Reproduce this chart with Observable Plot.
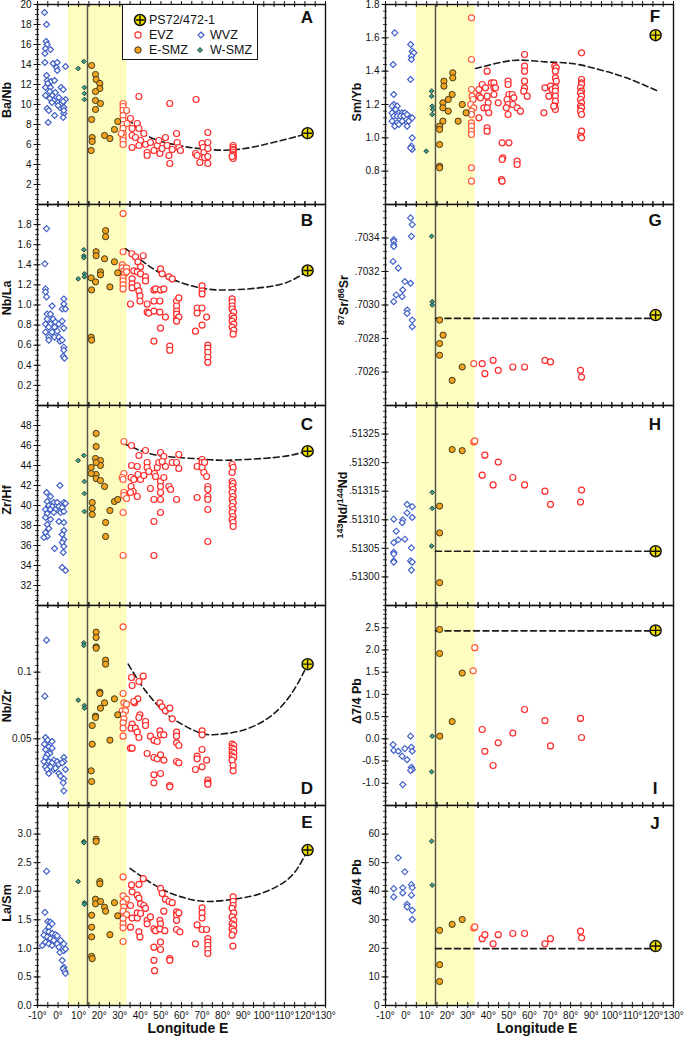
<!DOCTYPE html>
<html><head><meta charset="utf-8">
<script src="https://cdn.jsdelivr.net/npm/d3@7"></script>
<script src="https://cdn.jsdelivr.net/npm/@observablehq/plot@0.6"></script>
<style>
body{margin:0;background:#fff;font-family:Arial,"Liberation Sans",sans-serif;}
#wrap{position:relative;width:685px;height:1037px;overflow:hidden;background:#fff;}
.ylab{position:absolute;transform:translate(-50%,-50%) rotate(-90deg);font-weight:bold;font-size:12.5px;white-space:nowrap;line-height:1;color:#111;}
.ylab sup{font-size:0.72em;vertical-align:0.45em;line-height:0;}
.letter{position:absolute;transform:translate(-50%,-50%);font-weight:bold;font-size:17px;line-height:1;color:#111;}
.xlab{position:absolute;transform:translate(-50%,-50%);font-weight:bold;font-size:14px;white-space:nowrap;color:#111;}
#legend{position:absolute;left:122px;top:4px;width:136px;height:56px;box-sizing:border-box;border:1.3px solid #111;background:#fff;}
#legend span{position:absolute;font-size:12.5px;line-height:1;transform:translateY(-50%);white-space:nowrap;color:#111;}
#legend svg{position:absolute;left:0;top:0;}
</style></head>
<body><div id="wrap"></div>
<script>
// ---------- shared ----------
const band = [{x1: 5, x2: 33.5}];
const axisLine = [14.3];
const xTickVals = [-10,-5,0,5,10,15,20,25,30,35,40,45,50,55,60,65,70,75,80,85,90,95,100,105,110,115,120,125,130];
const xLabelVals = [-10,0,10,20,30,40,50,60,70,80,90,100,110,120,130];

// ---------- A: Ba/Nb ----------
const ticksA = [2,4,6,8,10,12,14,16,18,20];
const wvzA = [[-6.6,19.2],[-5.6,18.0],[-5.8,16.3],[-5.3,16.0],[-6.1,15.6],[-3.7,15.5],[-6.4,15.1],[-6.4,14.2],[-2.4,14.1],[-0.4,14.2],[-0.8,13.7],[-0.4,13.4],[3.6,13.8],[-5.6,12.9],[-5.3,12.4],[-3.4,12.3],[-1.7,12.4],[-4.5,11.9],[-6.1,11.7],[-3.7,11.7],[1.5,11.7],[2.5,11.5],[-1.3,11.2],[-6.1,10.9],[-2.9,10.9],[-4.0,10.6],[-2.1,10.4],[0.4,10.7],[-0.1,10.2],[3.6,10.5],[2.0,10.1],[0.9,9.7],[2.8,9.7],[-5.3,9.6],[-4.5,9.4],[2.8,9.1],[-1.7,8.9],[2.5,8.7],[-4.8,8.2],[1.2,10.0],[-3.0,10.2],[2.8,9.4],[-5.0,12.1],[-4.0,11.3],[0.0,9.9],[2.5,10.3]];
const wsmzA = [[9.8,13.6],[12.5,14.3],[12.8,11.7],[12.8,11.1],[12.8,10.5]];
const esmzA = [[16.3,13.9],[18.2,13.0],[18.5,12.5],[20.3,12.1],[20.3,11.6],[18.2,11.3],[18.2,10.4],[20.6,10.1],[18.2,9.5],[16.3,8.5],[16.6,6.7],[16.6,6.3],[16.1,5.4],[22.6,6.9],[25.2,6.6],[27.4,7.5],[29.0,8.3]];
const evzA = [[31.6,10.1],[31.6,9.8],[31.6,9.4],[31.6,8.9],[31.6,8.4],[31.6,8.0],[31.6,7.6],[31.6,7.1],[31.6,6.7],[31.6,6.4],[31.6,6.0],[33.3,9.4],[33.6,8.1],[30.7,7.1],
[35.2,8.6],[36.0,7.6],[36.0,6.9],[36.0,5.7],[38.5,8.1],[39.3,7.6],[37.6,6.7],[40.1,6.4],[41.7,7.1],[42.5,6.0],[39.3,5.9],[43.3,5.2],[43.3,4.9],[44.9,6.2],[46.6,5.4],[48.2,5.9],[49.0,6.4],[49.5,5.1],[50.6,5.6],[52.2,6.7],[53.0,5.9],[53.9,4.9],[54.3,4.1],[55.5,5.5],[57.6,7.1],[57.9,6.2],[58.7,5.7],[59.5,5.4],[39.3,10.8],[54.3,10.1],[67.1,10.5],
[66.8,5.1],[67.6,4.9],[68.9,4.2],[70.0,6.1],[70.5,5.7],[70.9,5.2],[71.2,4.7],[72.8,7.2],[72.8,6.2],[72.8,5.6],[72.8,4.8],[72.8,4.1],
[85.1,5.9],[85.1,5.7],[85.1,5.5],[85.1,5.4],[85.1,5.2],[85.1,5.0],[85.1,4.9],[85.1,4.7],[85.1,4.6],[84.6,4.8]];
const dashA = [[34.1,8.6],[43.0,6.9],[56.3,6.0],[69.4,5.57],[85.6,5.47],[101.8,6.07],[114.7,6.73],[121.3,7.13]];
const psA = [121.3,7.13];

// ---------- B: Nb/La ----------
const ticksB = [0.2,0.4,0.6,0.8,1.0,1.2,1.4,1.6,1.8];
const wvzB = [[-5.6,1.76],[-6.4,1.41],[-6.1,1.16],[-6.1,1.13],[-5.6,1.08],[2.8,1.06],[2.8,1.01],[-2.9,0.99],[2.0,0.96],[3.6,0.96],[-5.3,0.91],[-3.7,0.91],[-5.3,0.86],[-2.4,0.86],[-1.3,0.83],[-6.1,0.81],[-3.7,0.81],[0.4,0.81],[2.0,0.84],[-4.5,0.78],[-1.7,0.78],[2.8,0.77],[-6.1,0.73],[-2.9,0.73],[-0.4,0.74],[-4.5,0.68],[-1.7,0.68],[0.4,0.68],[-4.5,0.65],[0.9,0.64],[2.0,0.65],[2.8,0.58],[2.8,0.55],[2.5,0.49],[3.1,0.47]];
const wsmzB = [[12.5,1.55],[12.5,1.49],[12.5,1.47],[9.8,1.26],[12.8,1.31],[12.8,1.28]];
const esmzB = [[23.1,1.74],[23.1,1.68],[18.5,1.53],[18.5,1.49],[20.6,1.33],[20.6,1.30],[22.6,1.46],[27.4,1.43],[16.1,1.27],[18.2,1.23],[16.3,1.15],[25.2,1.18],[29.0,1.32],[16.1,0.68],[16.3,0.65]];
const evzB = [[31.6,1.91],[31.6,1.53],[31.2,1.40],[31.2,1.37],[32.0,1.34],[32.3,1.31],[31.6,1.27],[31.6,1.24],[31.6,1.20],[31.6,1.16],[33.3,1.37],[33.3,1.33],
[35.9,1.51],[41.4,1.49],[37.6,1.48],[38.8,1.43],[40.1,1.38],[36.8,1.34],[38.5,1.33],[40.1,1.31],[36.0,1.26],[36.0,1.21],[36.0,1.17],[38.5,1.19],[39.3,1.14],[39.8,1.09],[39.8,1.04],[35.2,1.01],[42.5,1.28],[42.5,1.24],[43.3,1.01],[43.3,0.93],[44.1,0.92],[46.6,1.15],[47.4,1.16],[46.6,1.04],[46.6,0.94],[46.6,0.64],[49.8,1.36],[50.6,1.31],[49.8,1.15],[51.4,1.16],[49.5,1.04],[49.5,0.93],[49.8,0.77],[52.2,0.88],[53.9,1.28],[55.5,1.26],[54.3,0.59],[54.3,0.55],[57.6,1.04],[58.7,1.07],[57.6,0.99],[57.6,0.94],[57.6,0.91],[57.6,0.86],[58.7,0.88],[57.6,0.84],
[70.0,1.19],[70.0,1.14],[70.0,1.11],[67.6,0.97],[70.0,0.97],[67.6,0.92],[72.2,0.88],[70.0,0.80],[66.8,0.74],[72.8,0.60],[72.8,0.57],[72.8,0.53],[72.8,0.48],[72.8,0.43],
[84.6,1.06],[84.6,1.03],[84.6,0.99],[84.6,0.96],[85.4,0.93],[84.6,0.89],[85.4,0.87],[84.6,0.84],[85.4,0.81],[84.6,0.78],[85.4,0.75],[85.1,0.71]];
const dashB = [[32.8,1.56],[40.1,1.45],[53.0,1.28],[69.2,1.17],[83.8,1.15],[101.7,1.18],[113.0,1.24],[121.3,1.34]];
const psB = [121.3,1.343];

// ---------- C: Zr/Hf ----------
const ticksC = [32,34,36,38,40,42,44,46,48];
const wvzC = [[-5.6,41.3],[0.9,42.0],[-3.7,40.9],[-5.3,40.4],[-2.1,40.3],[-0.4,40.3],[2.8,40.3],[-4.5,40.0],[-2.9,39.9],[0.4,39.9],[2.0,39.8],[-6.1,39.6],[-3.7,39.6],[-1.3,39.6],[3.6,40.2],[-5.3,39.2],[-2.1,39.3],[1.2,39.3],[2.8,39.4],[-6.1,38.8],[-3.7,38.6],[0.4,38.4],[-5.3,38.1],[2.8,38.3],[-4.5,37.7],[2.8,37.5],[-6.1,37.3],[-5.3,36.9],[2.0,37.1],[2.8,36.6],[2.0,36.3],[2.8,35.9],[-1.7,35.7],[2.5,35.3],[2.0,33.8],[3.6,33.5],[-6.9,36.8]];
const wsmzC = [[9.8,44.5],[12.5,45.0],[12.8,42.4],[12.8,41.2],[12.8,39.4]];
const esmzC = [[18.5,47.2],[18.5,45.9],[18.2,44.7],[20.6,44.5],[20.6,44.0],[18.5,44.3],[16.1,43.8],[18.5,43.1],[16.1,43.2],[18.5,42.7],[20.6,42.5],[22.6,41.9],[16.6,40.3],[16.6,39.7],[16.6,39.1],[25.2,39.5],[27.4,40.4],[29.0,40.6],[23.1,38.3],[23.1,36.9]];
const evzC = [[32.0,46.4],[32.0,43.2],[31.2,42.8],[31.6,42.6],[32.0,41.3],[32.8,41.0],[32.0,41.0],[33.3,40.7],[31.6,39.3],[31.6,35.0],
[35.7,46.0],[39.3,45.0],[42.5,45.5],[35.7,44.0],[38.5,43.9],[35.5,42.8],[36.8,42.6],[35.5,41.9],[36.5,41.4],[38.5,40.9],[35.2,41.3],[38.8,43.1],[40.1,42.6],[41.7,43.0],[43.3,44.3],[43.3,43.8],[44.1,43.4],[44.9,41.7],[46.9,43.2],[47.4,42.9],[48.2,43.8],[49.0,44.3],[49.8,45.3],[51.4,44.9],[52.2,43.9],[50.6,44.4],[49.8,42.4],[49.8,41.9],[49.8,41.3],[51.4,42.8],[53.9,41.9],[54.7,41.6],[46.6,40.6],[49.8,40.6],[49.8,39.3],[46.6,38.4],[46.6,35.0],[55.5,44.3],[57.6,44.3],[58.7,45.1],[58.7,43.7],[57.6,40.6],[67.6,40.8],[67.6,43.9],[70.0,44.6],[70.0,44.3],[70.0,43.8],[70.9,43.3],[71.2,44.3],[72.2,42.9],[72.8,41.9],[72.8,41.6],[72.8,40.9],[72.8,40.6],[72.8,39.6],[72.8,36.4],
[84.6,44.1],[85.1,43.8],[84.6,43.3],[84.6,42.4],[85.1,42.2],[84.6,41.9],[85.1,41.6],[84.6,41.3],[85.1,40.9],[84.6,40.6],[85.1,40.3],[84.6,39.9],[85.1,39.6],[84.6,39.3],[85.1,38.9],[84.6,38.6],[85.1,38.3],[85.1,37.9]];
const dashC = [[31.9,46.2],[41.3,45.4],[52.5,44.9],[68.7,44.66],[81.6,44.53],[101.0,44.73],[112.4,45.0],[121.3,45.43]];
const psC = [121.3,45.43];

// ---------- D: Nb/Zr ----------
const ticksD = [0.05,0.1];
const wvzD = [[-5.6,0.124],[-6.4,0.082],[-6.1,0.051],[-5.0,0.049],[-2.9,0.048],[-6.6,0.046],[-4.5,0.044],[-6.1,0.042],[-2.9,0.043],[-4.0,0.039],[-5.3,0.038],[-6.1,0.036],[-2.1,0.034],[-4.5,0.033],[-2.9,0.032],[-0.4,0.033],[2.8,0.036],[2.8,0.033],[-6.1,0.029],[-3.7,0.029],[0.4,0.031],[2.0,0.032],[-5.3,0.027],[-2.1,0.027],[-4.5,0.024],[0.4,0.024],[1.2,0.022],[2.8,0.020],[2.5,0.017],[2.8,0.011],[3.6,0.027],[-6.9,0.033],[-1.3,0.028]];
const wsmzD = [[12.5,0.122],[12.5,0.120],[9.8,0.079],[12.8,0.075],[12.8,0.073]];
const esmzD = [[18.5,0.130],[18.5,0.126],[18.5,0.119],[18.5,0.118],[23.1,0.109],[23.1,0.106],[20.3,0.085],[20.3,0.084],[27.4,0.080],[22.6,0.077],[20.6,0.073],[18.2,0.067],[18.2,0.066],[29.0,0.068],[16.6,0.060],[25.2,0.049],[16.6,0.046],[16.1,0.026],[16.3,0.018]];
const evzD = [[31.6,0.134],[31.6,0.084],[32.0,0.077],[33.3,0.076],[31.2,0.071],[32.8,0.071],[31.6,0.068],[32.0,0.065],[31.6,0.062],[31.6,0.058],[31.6,0.052],
[35.7,0.096],[41.4,0.097],[39.3,0.093],[36.0,0.090],[38.8,0.080],[37.2,0.077],[36.8,0.078],[39.8,0.068],[39.3,0.066],[42.5,0.063],[42.5,0.060],[36.0,0.061],[35.5,0.058],[37.6,0.058],[38.5,0.055],[39.3,0.051],[35.2,0.043],[36.0,0.043],[43.3,0.039],[44.9,0.052],[46.6,0.049],[48.2,0.048],[49.5,0.056],[49.8,0.053],[51.4,0.053],[46.6,0.036],[48.2,0.035],[49.8,0.038],[51.4,0.034],[46.6,0.023],[46.6,0.017],[49.8,0.024],[49.5,0.077],[50.6,0.074],[52.2,0.071],[54.3,0.073],[55.5,0.065],[54.3,0.015],[54.3,0.014],[57.6,0.055],[57.6,0.052],[57.6,0.047],[58.7,0.045],[57.6,0.033],[58.7,0.032],[70.0,0.056],[70.0,0.053],[67.6,0.037],[67.6,0.035],[70.0,0.042],[70.0,0.029],[66.8,0.027],[72.2,0.034],[72.8,0.019],[72.8,0.017],[72.8,0.016],
[84.6,0.046],[85.4,0.045],[84.6,0.043],[85.4,0.042],[84.6,0.040],[85.4,0.039],[84.6,0.037],[85.4,0.036],[84.6,0.034],[85.1,0.030],[85.1,0.026]];
const dashD = [[34.1,0.106],[41.3,0.0886],[49.4,0.0735],[57.5,0.0634],[68.9,0.0545],[77.0,0.0533],[88.3,0.0558],[101.2,0.0646],[110.9,0.0785],[117.3,0.0937],[121.3,0.106]];
const psD = [121.3,0.106];

// ---------- E: La/Sm ----------
const ticksE = [0.0,0.5,1.0,1.5,2.0,2.5,3.0];
const wvzE = [[-5.6,2.35],[-6.4,1.63],[-5.0,1.47],[-3.7,1.46],[-2.9,1.43],[-4.5,1.37],[-6.1,1.30],[-4.5,1.29],[-2.9,1.26],[-6.9,1.23],[-5.3,1.20],[-3.7,1.17],[-1.3,1.24],[-0.4,1.22],[-2.1,1.14],[-6.1,1.11],[-4.5,1.08],[-2.9,1.05],[-0.4,1.08],[1.2,1.14],[0.4,1.02],[2.8,1.08],[0.9,0.93],[2.8,0.96],[3.6,0.99],[2.0,0.79],[2.8,0.67],[2.5,0.64],[3.3,0.60],[3.6,0.56],[-7.7,1.05]];
const wsmzE = [[12.5,2.87],[12.5,2.85],[9.8,2.17],[12.8,1.80],[12.8,1.77]];
const esmzE = [[18.5,2.91],[18.5,2.87],[20.3,2.17],[20.3,2.13],[18.2,1.86],[18.2,1.78],[20.6,1.82],[22.6,1.72],[23.1,1.65],[27.4,1.80],[29.0,1.57],[16.3,1.58],[16.3,1.37],[16.3,1.20],[25.2,1.24],[16.3,0.86],[16.6,0.82]];
const evzE = [[31.6,2.25],[31.6,1.92],[33.3,1.86],[31.6,1.80],[32.0,1.72],[31.6,1.65],[33.3,1.59],[31.6,1.52],[31.6,1.43],[31.6,1.36],[31.6,1.12],
[41.4,2.22],[35.7,2.11],[39.3,2.12],[36.0,1.99],[38.5,1.93],[39.3,1.88],[35.2,1.75],[40.1,1.78],[41.7,1.75],[42.5,1.70],[38.5,1.62],[36.0,1.53],[38.5,1.53],[40.1,1.61],[35.2,1.37],[39.3,1.29],[39.8,1.20],[43.3,1.49],[43.3,1.43],[44.9,1.55],[46.6,1.34],[47.4,1.31],[46.6,1.02],[46.6,0.79],[46.9,0.61],[49.5,1.49],[49.8,1.43],[49.5,1.34],[49.8,1.11],[49.8,0.98],[51.4,1.65],[51.9,1.31],[49.8,2.05],[50.6,1.96],[52.2,1.86],[53.9,1.82],[55.5,1.80],[54.3,0.82],[54.3,0.79],[57.6,1.64],[57.6,1.58],[57.6,1.49],[57.6,1.33],[58.7,1.62],[59.2,1.29],[70.0,1.71],[70.0,1.62],[70.0,1.53],[70.0,1.33],[67.6,1.41],[66.8,1.08],[72.2,1.33],[72.8,1.17],[72.8,1.11],[72.8,1.05],[72.8,0.98],[72.8,0.91],
[85.1,1.90],[85.1,1.82],[85.1,1.75],[84.6,1.70],[85.4,1.62],[84.6,1.55],[85.4,1.49],[84.6,1.43],[85.4,1.40],[84.6,1.34],[85.4,1.30],[84.6,1.23],[85.0,1.04]];
const dashE = [[35.0,2.40],[43.3,2.19],[53.1,1.99],[62.9,1.87],[72.6,1.82],[85.6,1.86],[98.6,1.96],[109.9,2.16],[116.4,2.40],[121.3,2.72]];
const psE = [121.3,2.72];

// ---------- F: Sm/Yb ----------
const ticksF = [0.8,1.0,1.2,1.4,1.6,1.8];
const wvzF = [[-5.5,1.63],[-6.3,1.44],[-6.0,1.26],[2.2,1.56],[3.0,1.52],[3.8,1.51],[2.6,1.49],[2.6,1.47],[2.2,1.35],[-6.0,1.20],[-6.8,1.19],[-4.3,1.19],[-5.1,1.17],[-6.8,1.15],[-3.5,1.15],[-1.9,1.15],[-0.6,1.15],[-6.0,1.13],[-4.3,1.13],[-2.7,1.13],[-1.1,1.13],[0.5,1.14],[2.2,1.12],[3.0,1.12],[-6.8,1.10],[-4.3,1.09],[-1.9,1.10],[0.5,1.09],[1.3,1.10],[-5.5,1.07],[-3.5,1.08],[0.5,1.07],[3.0,1.00],[2.6,0.95],[3.0,0.93],[2.2,0.94]];
const wsmzF = [[12.4,1.28],[12.4,1.25],[12.7,1.19],[13.0,1.17],[12.7,1.14],[9.8,0.92]];
const esmzF = [[22.7,1.39],[22.7,1.36],[18.4,1.34],[18.4,1.31],[22.4,1.26],[20.5,1.23],[17.9,1.21],[17.9,1.18],[20.5,1.16],[27.3,1.20],[29.2,1.15],[25.3,1.10],[17.9,1.10],[16.3,1.07],[16.3,1.05],[16.3,0.96],[16.3,0.83],[16.3,0.82]];
const evzF = [[31.8,1.72],[31.8,1.47],[31.8,1.29],[32.1,1.25],[32.6,1.23],[31.4,1.20],[32.9,1.18],[31.8,1.16],[31.8,1.14],[31.8,1.09],[31.8,1.07],[31.8,1.04],[31.8,1.02],[31.8,0.82],[31.8,0.74],
[35.4,1.12],[35.4,1.29],[35.4,1.25],[36.2,1.24],[37.0,1.32],[38.6,1.30],[39.4,1.40],[39.4,1.25],[39.9,1.21],[37.8,1.18],[39.4,1.18],[40.2,1.15],[39.4,1.06],[39.4,1.04],[41.5,1.33],[42.7,1.33],[42.7,1.30],[43.5,1.30],[42.7,1.26],[44.8,1.21],[46.7,0.97],[47.0,0.88],[46.7,0.87],[46.4,0.75],[46.7,0.74],[49.6,1.34],[49.6,1.32],[50.0,1.26],[49.1,1.23],[49.6,1.20],[48.7,1.18],[49.6,1.14],[50.0,0.97],[51.6,1.26],[52.4,1.24],[51.9,1.20],[54.0,1.18],[55.6,1.16],[54.0,0.86],[54.0,0.84],[57.6,1.50],[57.6,1.43],[57.6,1.40],[57.6,1.34],[57.6,1.30],[57.2,1.28],[58.9,1.25],[67.5,1.30],[67.0,1.15],[69.4,1.25],[70.2,1.31],[71.0,1.29],[72.3,1.43],[73.0,1.42],[72.6,1.40],[72.6,1.36],[73.0,1.34],[72.6,1.30],[72.6,1.28],[72.6,1.25],[72.6,1.22],[72.3,1.19],[72.6,1.17],[71.8,1.19],
[85.3,1.51],[85.3,1.35],[85.3,1.33],[85.3,1.32],[84.8,1.30],[85.3,1.28],[84.8,1.27],[85.3,1.25],[84.8,1.23],[85.3,1.21],[84.8,1.19],[85.3,1.18],[84.8,1.16],[85.3,1.14],[85.3,1.04],[84.8,1.01],[85.3,1.00]];
const dashF = [[33.8,1.416],[43.5,1.446],[54.8,1.466],[67.8,1.456],[80.8,1.446],[93.7,1.41],[106.7,1.362],[122.1,1.282]];
const psF = [121.3,1.616];

// ---------- G: 87Sr/86Sr ----------
const ticksG = [0.7026,0.7028,0.7030,0.7032,0.7034];
const wvzG = [[2.2,0.70352],[3.0,0.70348],[2.6,0.70341],[-6.0,0.70339],[-6.0,0.70338],[-6.0,0.70336],[-6.0,0.70335],[-6.3,0.70326],[-3.8,0.70322],[-0.6,0.70314],[2.2,0.70313],[-1.6,0.70309],[-4.8,0.70306],[-1.9,0.70305],[-6.0,0.70302],[0.5,0.70297],[0.5,0.70295],[3.0,0.70291],[3.0,0.70287]];
const wsmzG = [[12.4,0.70341],[12.7,0.70302],[12.7,0.70300]];
const esmzG = [[16.3,0.70291],[18.0,0.70282],[16.3,0.70277],[16.3,0.70270],[27.3,0.70263],[22.4,0.70255]];
const evzG = [[32.9,0.70265],[37.0,0.70265],[38.3,0.70259],[42.3,0.70267],[44.8,0.70261],[51.9,0.70263],[57.6,0.70263],[67.5,0.70267],[70.2,0.70266],[84.8,0.70261],[85.3,0.70257]];
const dashG = [[14.3,0.70292],[121.3,0.70292]];
const psG = [121.3,0.70294];

// ---------- H: 143Nd/144Nd ----------
const ticksH = [0.51300,0.51305,0.51310,0.51315,0.51320,0.51325];
const wvzH = [[0.5,0.513127],[3.0,0.513123],[0.5,0.513112],[3.0,0.513104],[-6.0,0.513101],[-1.6,0.513100],[-1.9,0.513095],[-4.8,0.513080],[-6.0,0.513060],[-3.8,0.513065],[-0.6,0.513066],[2.6,0.513051],[-6.0,0.513043],[-6.0,0.513040],[-6.0,0.513028],[-6.0,0.513026],[2.2,0.513028],[3.0,0.513026],[2.6,0.513012]];
const wsmzH = [[12.7,0.513148],[12.7,0.513120],[12.4,0.513054]];
const esmzH = [[22.4,0.513223],[27.3,0.513221],[16.3,0.513124],[16.3,0.513077],[16.3,0.512990]];
const evzH = [[32.9,0.513236],[33.4,0.513238],[38.3,0.513213],[44.8,0.513201],[37.0,0.513178],[42.3,0.513161],[51.9,0.513174],[57.6,0.513161],[67.5,0.513150],[70.2,0.513127],[85.3,0.513152],[84.8,0.513131]];
const dashH = [[14.3,0.513045],[121.3,0.513045]];
const psH = [121.3,0.513045];

// ---------- I: Δ7/4 Pb ----------
const ticksI = [-1.0,-0.5,0.0,0.5,1.0,1.5,2.0,2.5];
const wvzI = [[-6.3,-0.13],[-6.0,-0.26],[-3.8,-0.28],[-1.9,-0.39],[-0.6,-0.22],[0.5,-0.47],[2.2,0.06],[2.6,-0.19],[3.0,-0.28],[2.6,-0.64],[3.0,-0.69],[2.2,-0.71],[-1.6,-1.03]];
const wsmzI = [[12.7,0.06],[12.4,-0.74]];
const esmzI = [[16.3,2.46],[16.3,1.92],[27.3,1.48],[22.4,0.39],[16.4,0.06]];
const evzI = [[33.4,2.05],[32.6,1.53],[37.0,0.21],[38.3,-0.28],[42.3,-0.60],[44.8,-0.09],[51.9,0.13],[57.6,0.66],[67.5,0.41],[70.2,-0.16],[84.8,0.46],[85.3,0.03]];
const dashI = [[14.3,2.43],[121.3,2.43]];
const psI = [121.3,2.44];

// ---------- J: Δ8/4 Pb ----------
const ticksJ = [0,10,20,30,40,50,60];
const wvzJ = [[-3.8,51.7],[-0.6,46.8],[-6.0,40.9],[-6.0,38.0],[-1.6,41.2],[-1.6,39.4],[2.6,42.3],[3.0,41.2],[2.6,38.6],[0.5,35.4],[0.5,34.5],[3.0,33.3],[3.0,30.1]];
const wsmzJ = [[12.4,57.5],[12.7,42.1]];
const esmzJ = [[16.3,26.3],[22.4,28.4],[27.3,30.1],[16.3,14.3],[16.3,8.4]];
const evzJ = [[32.9,27.1],[33.4,27.5],[37.0,23.4],[38.3,24.8],[42.3,21.6],[44.8,24.8],[51.9,25.2],[57.6,25.2],[67.5,21.6],[70.2,23.4],[84.8,26.0],[85.3,23.7]];
const dashJ = [[14.3,19.9],[121.3,19.9]];
const psJ = [121.3,20.8];

// ---------- layout ----------
const COLS = [{left:0,width:335,mL:37,mR:10},{left:345,width:340,mL:40,mR:12}];
const ROWS = [{top:4,h:200},{top:204,h:201},{top:405,h:200},{top:605,h:200},{top:805,h:200}];

const f1 = d => d.toFixed(1), f0 = d => String(d);
const panels = [
 {id:"A",col:0,row:0,domain:[0,20],ticks:ticksA,minor:0.5,fmt:f0,wvz:wvzA,wsmz:wsmzA,esmz:esmzA,evz:evzA,dash:dashA,ps:psA,curve:"natural",label:"Ba/Nb",lx:7,ly:100,lt:[307,17]},
 {id:"B",col:0,row:1,domain:[0,2],ticks:ticksB,minor:0.05,fmt:f1,wvz:wvzB,wsmz:wsmzB,esmz:esmzB,evz:evzB,dash:dashB,ps:psB,curve:"natural",label:"Nb/La",lx:7,ly:298,lt:[307,220]},
 {id:"C",col:0,row:2,domain:[30,50],ticks:ticksC,minor:0.5,fmt:f0,wvz:wvzC,wsmz:wsmzC,esmz:esmzC,evz:evzC,dash:dashC,ps:psC,curve:"natural",label:"Zr/Hf",lx:7,ly:500,lt:[307,424]},
 {id:"D",col:0,row:3,domain:[0,0.15],ticks:ticksD,minor:0.005,fmt:f0,wvz:wvzD,wsmz:wsmzD,esmz:esmzD,evz:evzD,dash:dashD,ps:psD,curve:"natural",label:"Nb/Zr",lx:7,ly:706,lt:[307,788]},
 {id:"E",col:0,row:4,domain:[0,3.5],ticks:ticksE,minor:0.1,fmt:f1,wvz:wvzE,wsmz:wsmzE,esmz:esmzE,evz:evzE,dash:dashE,ps:psE,curve:"natural",label:"La/Sm",lx:7,ly:903,lt:[307,822]},
 {id:"F",col:1,row:0,domain:[0.6,1.8],ticks:ticksF,minor:0.04,fmt:f1,wvz:wvzF,wsmz:wsmzF,esmz:esmzF,evz:evzF,dash:dashF,ps:psF,curve:"natural",label:"Sm/Yb",lx:357,ly:102,lt:[655,16]},
 {id:"G",col:1,row:1,domain:[0.7024,0.7036],ticks:ticksG,minor:0.00004,fmt:d=>d.toFixed(4).replace(/^0/,""),wvz:wvzG,wsmz:wsmzG,esmz:esmzG,evz:evzG,dash:dashG,ps:psG,curve:"linear",label:"<sup>87</sup>Sr/<sup>86</sup>Sr",lx:344,ly:300,lt:[655,220]},
 {id:"H",col:1,row:2,domain:[0.51295,0.51330],ticks:ticksH,minor:0.00001,fmt:d=>d.toFixed(5).replace(/^0/,""),wvz:wvzH,wsmz:wsmzH,esmz:esmzH,evz:evzH,dash:dashH,ps:psH,curve:"linear",label:"<sup>143</sup>Nd/<sup>144</sup>Nd",lx:343,ly:505,lt:[655,424]},
 {id:"I",col:1,row:3,domain:[-1.5,3.0],ticks:ticksI,minor:0.1,fmt:f1,wvz:wvzI,wsmz:wsmzI,esmz:esmzI,evz:evzI,dash:dashI,ps:psI,curve:"linear",label:"Δ7/4 Pb",lx:357,ly:701,lt:[655,788]},
 {id:"J",col:1,row:4,domain:[0,70],ticks:ticksJ,minor:2,fmt:f0,wvz:wvzJ,wsmz:wsmzJ,esmz:esmzJ,evz:evzJ,dash:dashJ,ps:psJ,curve:"linear",label:"Δ8/4 Pb",lx:357,ly:882,lt:[655,823]}
];

const wrap = document.getElementById("wrap");
const lon = d => d[0], val = d => d[1];

function drawPanel(p) {
  const C = COLS[p.col], R = ROWS[p.row];
  const last = p.row === 4;
  const mT = 8, mB = last ? 26 : 8;
  const [y0, y1] = p.domain;
  const n = Math.round((y1 - y0) / p.minor);
  const minor = d3.range(n + 1).map(i => y0 + i * p.minor);
  const marks = [
    Plot.rect(band, {x1: "x1", x2: "x2", fill: "#fdfdc0"}),
    Plot.ruleX(axisLine, {stroke: "#57574c", strokeWidth: 1.5}),
    Plot.line(p.dash, {x: lon, y: val, stroke: "#1a1a1a", strokeWidth: 1.6, strokeDasharray: "6,3.5", curve: p.curve}),
    Plot.dot(p.wvz, {x: lon, y: val, symbol: "diamond2", r: 2.7, stroke: "#3f5fc6", strokeWidth: 1.15, fill: "white"}),
    Plot.dot(p.evz, {x: lon, y: val, r: 3.0, stroke: d => d[0] < 34 ? "#ff5a32" : "#ff2a2a", strokeWidth: 1.2, fill: "white"}),
    Plot.dot(p.esmz, {x: lon, y: val, r: 3.1, fill: "#f2a21c", stroke: "#3d3a1e", strokeWidth: 1}),
    Plot.dot(p.wsmz, {x: lon, y: val, symbol: "diamond2", r: 2.1, fill: "#35a396", stroke: "#263c2c", strokeWidth: 1}),
    Plot.dot([p.ps], {x: lon, y: val, r: 5.5, fill: "#f3e200", stroke: "#111", strokeWidth: 1.5}),
    Plot.dot([p.ps], {x: lon, y: val, symbol: "plus", r: 3.0, stroke: "#111", strokeWidth: 1.4}),
    Plot.frame({stroke: "#111", strokeWidth: 1.4}),
    Plot.ruleX(xTickVals, {x: d => d, y1: y0, y2: y0, insetTop: 3, insetBottom: 3, stroke: "#111"}),
    Plot.ruleX(xTickVals, {x: d => d, y1: y1, y2: y1, insetTop: 3, insetBottom: 3, stroke: "#111"}),
    Plot.ruleY(minor, {y: d => d, x1: -10, x2: -10, insetLeft: 2, insetRight: 2, stroke: "#111", strokeWidth: 0.8}),
    Plot.ruleY(p.ticks, {y: d => d, x1: -10, x2: -10, insetLeft: 3.5, insetRight: 3.5, stroke: "#111"}),
    Plot.axisY(p.ticks, {tickSize: 0, tickPadding: 6, tickFormat: p.fmt, label: null, fontSize: 10, color: "#111"})
  ];
  if (last) marks.push(Plot.axisX(xLabelVals, {anchor: "bottom", tickSize: 0, tickPadding: 6, tickFormat: d => d + "°", label: null, fontSize: 10, color: "#111"}));
  const svg = Plot.plot({
    width: C.width, height: R.h + mT + mB,
    marginLeft: C.mL, marginRight: C.mR, marginTop: mT, marginBottom: mB,
    x: last ? {domain: [-10, 130]} : {domain: [-10, 130], axis: null},
    y: {domain: p.domain},
    color: {type: "identity"},
    style: "background:transparent;overflow:visible;font-family:Arial,'Liberation Sans',sans-serif;font-size:10px;color:#111;",
    marks
  });
  svg.style.position = "absolute";
  svg.style.left = C.left + "px";
  svg.style.top = (R.top - mT) + "px";
  wrap.appendChild(svg);

  const yl = document.createElement("div");
  yl.className = "ylab"; yl.innerHTML = p.label;
  yl.style.left = p.lx + "px"; yl.style.top = p.ly + "px";
  wrap.appendChild(yl);

  const lt = document.createElement("div");
  lt.className = "letter"; lt.textContent = p.id;
  lt.style.left = p.lt[0] + "px"; lt.style.top = p.lt[1] + "px";
  wrap.appendChild(lt);
}
panels.forEach(drawPanel);

// x-axis titles
[[188, 1028], [537, 1028]].forEach(([x, y]) => {
  const d = document.createElement("div");
  d.className = "xlab"; d.textContent = "Longitude E";
  d.style.left = x + "px"; d.style.top = y + "px";
  wrap.appendChild(d);
});

// legend
const legendItems = [
  {name: "PS72/472-1", sx: 17, sy: 15, tx: 26, kind: "ps"},
  {name: "EVZ", sx: 15, sy: 30, tx: 26, kind: "evz"},
  {name: "WVZ", sx: 78, sy: 30, tx: 87, kind: "wvz"},
  {name: "E-SMZ", sx: 15, sy: 45, tx: 26, kind: "esmz"},
  {name: "W-SMZ", sx: 77, sy: 45, tx: 87, kind: "wsmz"}
];
const lg = document.createElement("div");
lg.id = "legend";
const ns = "http://www.w3.org/2000/svg";
const lsvg = document.createElementNS(ns, "svg");
lsvg.setAttribute("width", "134"); lsvg.setAttribute("height", "54");
legendItems.forEach(it => {
  let el;
  if (it.kind === "ps") {
    el = document.createElementNS(ns, "g");
    el.innerHTML = `<circle cx="${it.sx}" cy="${it.sy}" r="5.5" fill="#f3e200" stroke="#111" stroke-width="1.5"/><path d="M${it.sx-4.4},${it.sy}h8.8M${it.sx},${it.sy-4.4}v8.8" stroke="#111" stroke-width="1.4"/>`;
  } else if (it.kind === "evz") {
    el = document.createElementNS(ns, "circle");
    el.setAttribute("cx", it.sx); el.setAttribute("cy", it.sy); el.setAttribute("r", 3.1);
    el.setAttribute("fill", "white"); el.setAttribute("stroke", "#ff2a2a"); el.setAttribute("stroke-width", 1.2);
  } else if (it.kind === "esmz") {
    el = document.createElementNS(ns, "circle");
    el.setAttribute("cx", it.sx); el.setAttribute("cy", it.sy); el.setAttribute("r", 3.2);
    el.setAttribute("fill", "#f2a21c"); el.setAttribute("stroke", "#3d3a1e"); el.setAttribute("stroke-width", 1);
  } else {
    const h = it.kind === "wvz" ? 3.0 : 2.5;
    el = document.createElementNS(ns, "path");
    el.setAttribute("d", `M${it.sx},${it.sy-h}L${it.sx+h},${it.sy}L${it.sx},${it.sy+h}L${it.sx-h},${it.sy}Z`);
    el.setAttribute("fill", it.kind === "wvz" ? "white" : "#35a396");
    el.setAttribute("stroke", it.kind === "wvz" ? "#3f5fc6" : "#263c2c");
    el.setAttribute("stroke-width", it.kind === "wvz" ? 1.1 : 1);
  }
  lsvg.appendChild(el);
  const s = document.createElement("span");
  s.textContent = it.name; s.style.left = it.tx + "px"; s.style.top = it.sy + "px";
  lg.appendChild(s);
});
lg.appendChild(lsvg);
wrap.appendChild(lg);
</script>
</body></html>
